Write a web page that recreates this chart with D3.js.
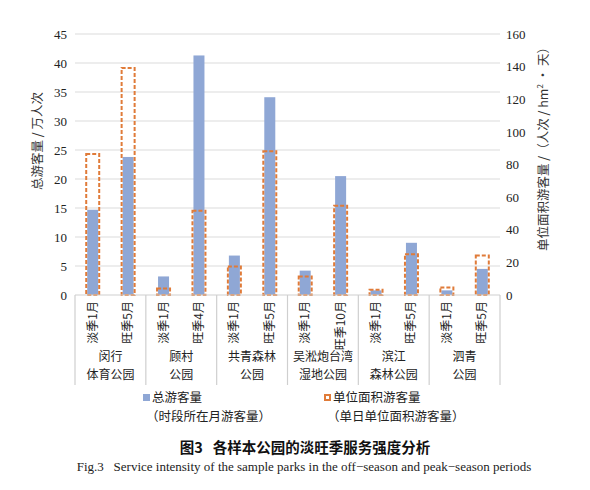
<!DOCTYPE html>
<html>
<head>
<meta charset="utf-8">
<script src="https://cdn.jsdelivr.net/npm/d3@7"></script>
<style>
  body { margin: 0; background: #fff; }
  svg { display: block; }
</style>
</head>
<body>
<div id="app"></div>
<script>
// categories: each park has an off-season and a peak-season bar
const parks = [
  ['闵行', '体育公园'],
  ['顾村', '公园'],
  ['共青森林', '公园'],
  ['吴淞炮台湾', '湿地公园'],
  ['滨江', '森林公园'],
  ['泗青', '公园']
]
const seasons = ['淡季1月', '旺季5月', '淡季1月', '旺季4月', '淡季1月', '旺季5月',
                 '淡季1月', '旺季10月', '淡季1月', '旺季5月', '淡季1月', '旺季5月']
// 总游客量 (万人次), left axis
const totalVisitors = [14.7, 23.8, 3.2, 41.3, 6.8, 34.1, 4.2, 20.5, 0.8, 9.0, 0.8, 4.5]
// 单位面积游客量 (人次/hm²·天), right axis
const unitVisitors = [86.5, 139.2, 4, 51.7, 17.5, 88.1, 11.4, 54.7, 3.2, 25, 4.6, 24.2]
const leftTicks = [0, 5, 10, 15, 20, 25, 30, 35, 40, 45]
const rightTicks = [0, 20, 40, 60, 80, 100, 120, 140, 160]

const W = 590, H = 490
const plotL = 75, plotR = 500, plotT = 34, plotB = 295
const cjk = '"Noto Sans CJK SC", sans-serif'
const serif = '"Liberation Serif", "DejaVu Serif", serif'
const blue = '#8fa7d5'
const orange = '#e07b39'

const svg = d3.select('#app').append('svg')
    .attr('width', W).attr('height', H)

const idx = d3.range(seasons.length)
const x = d3.scaleBand().domain(idx).range([plotL, plotR]).padding(0)
const yL = d3.scaleLinear().domain([0, 45]).range([plotB, plotT])
const yR = d3.scaleLinear().domain([0, 160]).range([plotB, plotT])

// gridlines
svg.append('g')
    .selectAll('line')
    .data(leftTicks.slice(1))
    .enter().append('line')
    .attr('x1', plotL).attr('x2', plotR)
    .attr('y1', d => yL(d)).attr('y2', d => yL(d))
    .style('stroke', '#dcdcdc').style('stroke-width', 1.2)

// left axis
const axL = svg.append('g')
    .attr('transform', 'translate(' + plotL + ',0)')
    .call(d3.axisLeft(yL).tickValues(leftTicks).tickSize(0).tickPadding(8))
axL.select('.domain').remove()
axL.selectAll('text').style('font-family', serif).style('font-size', '13px').style('fill', '#222')

// right axis
const axR = svg.append('g')
    .attr('transform', 'translate(' + plotR + ',0)')
    .call(d3.axisRight(yR).tickValues(rightTicks).tickSize(0).tickPadding(6))
axR.select('.domain').remove()
axR.selectAll('text').style('font-family', serif).style('font-size', '13px').style('fill', '#222')

// blue bars
const bw = 11, dw = 13
svg.append('g')
    .selectAll('rect')
    .data(totalVisitors)
    .enter().append('rect')
    .attr('x', (d, i) => x(i) + x.bandwidth() / 2 - bw / 2)
    .attr('width', bw)
    .attr('y', d => yL(d))
    .attr('height', d => plotB - yL(d))
    .style('fill', blue)

// dashed outline bars
svg.append('g')
    .selectAll('rect')
    .data(unitVisitors)
    .enter().append('rect')
    .attr('x', (d, i) => x(i) + x.bandwidth() / 2 - dw / 2)
    .attr('width', dw)
    .attr('y', d => yR(d))
    .attr('height', d => plotB - yR(d))
    .style('fill', 'none')
    .style('stroke', orange)
    .style('stroke-width', 2)
    .style('stroke-dasharray', '4,2')

// x axis frame
const frameBottom = 385
svg.append('line')
    .attr('x1', plotL).attr('x2', plotR).attr('y1', plotB).attr('y2', plotB)
    .style('stroke', '#cfcfcf').style('stroke-width', 1.2)
svg.append('g')
    .selectAll('line')
    .data(d3.range(parks.length + 1))
    .enter().append('line')
    .attr('x1', d => plotL + d * 2 * x.bandwidth())
    .attr('x2', d => plotL + d * 2 * x.bandwidth())
    .attr('y1', plotB).attr('y2', frameBottom)
    .style('stroke', '#cfcfcf').style('stroke-width', 1.2)

// season labels (rotated)
svg.append('g')
    .selectAll('text')
    .data(seasons)
    .enter().append('text')
    .attr('transform', (d, i) => 'translate(' + (x(i) + x.bandwidth() / 2 + 4) + ',' + (plotB + 6) + ') rotate(-90)')
    .attr('text-anchor', 'end')
    .style('font-family', cjk)
    .style('font-size', '12px')
    .style('fill', '#222')
    .text(d => d)

// park labels
const pl = svg.append('g')
    .selectAll('text')
    .data(parks)
    .enter().append('text')
    .attr('text-anchor', 'middle')
    .style('font-family', cjk)
    .style('font-size', '12px')
    .style('fill', '#222')
pl.each(function(d, i) {
    const cx = plotL + (i * 2 + 1) * x.bandwidth()
    d3.select(this).selectAll('tspan')
        .data(d)
        .enter().append('tspan')
        .attr('x', cx)
        .attr('y', (t, j) => 361 + j * 18)
        .text(t => t)
})

// axis titles
svg.append('text')
    .attr('transform', 'translate(42,141) rotate(-90)')
    .attr('text-anchor', 'middle')
    .style('font-family', cjk).style('font-size', '12.5px').style('fill', '#333')
    .text('总游客量 / 万人次')

const rt = svg.append('text')
    .attr('transform', 'translate(548,146) rotate(-90)')
    .attr('text-anchor', 'middle')
    .style('font-family', cjk).style('font-size', '12.5px').style('fill', '#333')
rt.append('tspan').text('单位面积游客量 /（人次 / hm')
rt.append('tspan').attr('dy', -5).style('font-size', '8px').text('2')
rt.append('tspan').attr('dy', 5).text(' · 天）')

// legend
const legText = (x0, y0, t) => svg.append('text').attr('x', x0).attr('y', y0)
    .style('font-family', cjk).style('font-size', '12.5px').style('fill', '#222')
    .text(t)
svg.append('rect').attr('x', 143).attr('y', 394).attr('width', 7).attr('height', 7).style('fill', blue)
legText(152, 402, '总游客量')
legText(146, 421, '（时段所在月游客量）')

svg.append('rect').attr('x', 325).attr('y', 395).attr('width', 5).attr('height', 5)
    .style('fill', 'none').style('stroke', orange).style('stroke-width', 2)
legText(333, 402, '单位面积游客量')
legText(327, 421, '（单日单位面积游客量）')

// caption
svg.append('text').attr('x', 305).attr('y', 453)
    .attr('text-anchor', 'middle')
    .style('white-space', 'pre')
    .style('font-family', cjk).style('font-size', '14.5px').style('font-weight', 'bold').style('fill', '#111')
    .text('图3   各样本公园的淡旺季服务强度分析')
svg.append('text').attr('x', 304).attr('y', 471)
    .attr('text-anchor', 'middle')
    .style('white-space', 'pre')
    .style('font-family', serif).style('font-size', '13px').style('fill', '#222')
    .text('Fig.3   Service intensity of the sample parks in the off\u2212season and peak\u2212season periods')
</script>
</body>
</html>
